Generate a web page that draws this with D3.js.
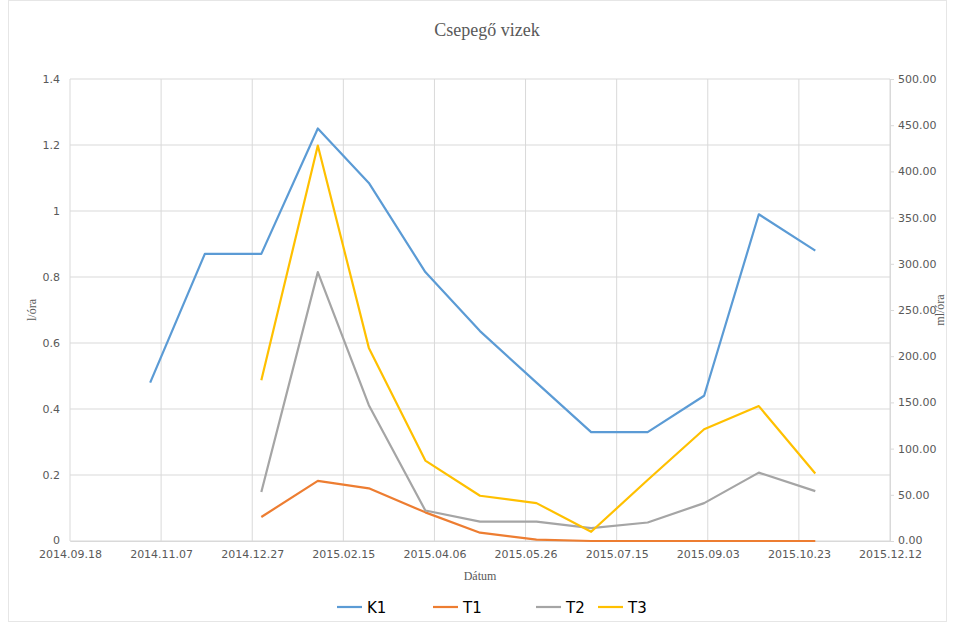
<!DOCTYPE html>
<html><head><meta charset="utf-8">
<script src="https://cdn.jsdelivr.net/npm/d3@7"></script>
<style>body{margin:0;background:#fff}</style>
</head><body>
<svg id="c" width="954" height="623"></svg>
<script>
const dates = ["2014-11-01","2014-12-01","2015-01-01","2015-02-01","2015-03-01","2015-04-01","2015-05-01","2015-06-01","2015-07-01","2015-08-01","2015-09-01","2015-10-01","2015-11-01"];
const k1 = [0.48,0.87,0.87,1.25,1.085,0.815,0.636,0.48,0.33,0.33,0.44,0.99,0.88];
const t1 = [null,null,26,65,57,31,9,1.5,0,0,0,0,0];
const t2 = [null,null,53,291,147,33,21,21,14,20,41,74,54];
const t3 = [null,null,174,428,209,87,49,41,10,66,121,146,73];
const xTickLabels = ["2014.09.18","2014.11.07","2014.12.27","2015.02.15","2015.04.06","2015.05.26","2015.07.15","2015.09.03","2015.10.23","2015.12.12"];
const leftTicks = [0,0.2,0.4,0.6,0.8,1,1.2,1.4];
const rightTicks = [0,50,100,150,200,250,300,350,400,450,500];
const seriesNames = ["K1","T1","T2","T3"];
const colors = ["#5b9bd5","#ed7d31","#a5a5a5","#ffc000"];

const parse = d3.timeParse("%Y-%m-%d");
const parseTick = d3.timeParse("%Y.%m.%d");
const svg = d3.select("#c");
const L=70,R=890,T=79,B=541;
const x = d3.scaleTime().domain([parseTick(xTickLabels[0]), parseTick(xTickLabels[xTickLabels.length-1])]).range([L,R]);
const yL = d3.scaleLinear().domain([0,1.4]).range([B,T]);
const yR = d3.scaleLinear().domain([0,500]).range([B,T]);

svg.append("rect").attr("x",8.5).attr("y",0.5).attr("width",938).attr("height",621).attr("fill","#fff").attr("stroke","#e6e6e6");

// gridlines
const g = svg.append("g");
g.selectAll(".hg").data(leftTicks).join("line").attr("x1",L).attr("x2",R).attr("y1",d=>yL(d)).attr("y2",d=>yL(d)).attr("stroke","#d9d9d9").attr("stroke-width",1);
g.selectAll(".vg").data(xTickLabels).join("line").attr("x1",d=>x(parseTick(d))).attr("x2",d=>x(parseTick(d))).attr("y1",T).attr("y2",B).attr("stroke","#d9d9d9").attr("stroke-width",1);

// axes
const fontSans = "'DejaVu Sans', sans-serif";
const axL = d3.axisLeft(yL).tickValues(leftTicks).tickSize(0).tickPadding(10).tickFormat(d=>String(d));
const gl = svg.append("g").attr("transform",`translate(${L},0)`).call(axL);
gl.select(".domain").remove();
gl.selectAll("text").attr("fill","#595959").style("font-family",fontSans).style("font-size","11px");
gl.selectAll("text").filter(d=>d===0).attr("dy","0.2em");

const axR = d3.axisRight(yR).tickValues(rightTicks).tickSize(4).tickPadding(4).tickFormat(d3.format(".2f"));
const gr = svg.append("g").attr("transform",`translate(${R},0)`).call(axR);
gr.select(".domain").attr("stroke","#d9d9d9");
gr.selectAll("line").attr("stroke","#d9d9d9");
gr.selectAll("text").attr("fill","#595959").style("font-family",fontSans).style("font-size","11px");
gr.selectAll("text").filter(d=>d===0).attr("dy","0.2em");

const axB = d3.axisBottom(x).tickValues(xTickLabels.map(parseTick)).tickSize(0).tickPadding(9).tickFormat(d3.timeFormat("%Y.%m.%d"));
const gb = svg.append("g").attr("transform",`translate(0,${B})`).call(axB);
gb.select(".domain").attr("stroke","#d9d9d9");
gb.selectAll("text").attr("fill","#595959").style("font-family",fontSans).style("font-size","11px");

// lines
const pts = dates.map(parse);
const mk = (vals, ys) => d3.line().defined((d,i)=>vals[i]!==null).x((d,i)=>x(pts[i])).y((d,i)=>ys(vals[i]));
const allSeries = [[k1,yL],[t1,yR],[t2,yR],[t3,yR]];
allSeries.forEach(([vals,ys],k)=>{
  svg.append("path").datum(vals).attr("d",mk(vals,ys)(vals)).attr("fill","none").attr("stroke",colors[k]).attr("stroke-width",2.2).attr("stroke-linejoin","round");
});

// titles
const serif = "'Liberation Serif','DejaVu Serif',serif";
svg.append("text").attr("x",487).attr("y",36).attr("text-anchor","middle").attr("fill","#595959").style("font-family",serif).style("font-size","18px").text("Csepegő vizek");
svg.append("text").attr("transform","translate(36,310) rotate(-90)").attr("text-anchor","middle").attr("fill","#595959").style("font-family",serif).style("font-size","12px").text("l/óra");
svg.append("text").attr("transform","translate(944,310) rotate(-90)").attr("text-anchor","middle").attr("fill","#595959").style("font-family",serif).style("font-size","12px").text("ml/óra");
svg.append("text").attr("x",480).attr("y",580).attr("text-anchor","middle").attr("fill","#595959").style("font-family",serif).style("font-size","12px").text("Dátum");

// legend
const legX = [337,433,536,598];
seriesNames.forEach((n,i)=>{
  svg.append("line").attr("x1",legX[i]).attr("x2",legX[i]+25).attr("y1",607).attr("y2",607).attr("stroke",colors[i]).attr("stroke-width",2.2);
  svg.append("text").attr("x",legX[i]+30).attr("y",613).attr("fill","#000").style("font-family",fontSans).style("font-size","15px").text(n);
});
</script>
</body></html>
